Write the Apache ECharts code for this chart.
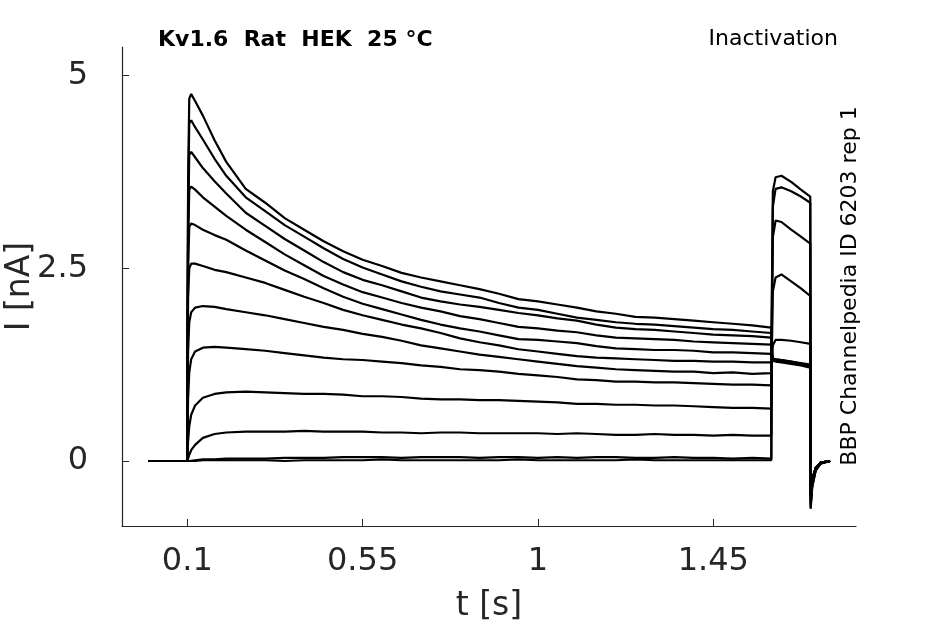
<!DOCTYPE html>
<html>
<head>
<meta charset="utf-8">
<title>Kv1.6 Inactivation</title>
<script src="https://cdn.jsdelivr.net/npm/echarts@6/dist/echarts.min.js"></script>
<style>
  html, body { margin: 0; padding: 0; background: #fff; }
  #chart { width: 945px; height: 624px; }
</style>
</head>
<body>
<div id="chart"></div>
<script>
// time points (s), shared by all sweeps
const timePoints = [0, 0.0995, 0.1, 0.102, 0.105, 0.11, 0.12, 0.14, 0.17, 0.2,
  0.25, 0.3, 0.35, 0.4, 0.45, 0.5, 0.55, 0.6, 0.65, 0.7,
  0.75, 0.8, 0.85, 0.9, 0.95, 1.0, 1.05, 1.1, 1.15, 1.2,
  1.25, 1.3, 1.35, 1.4, 1.45, 1.5, 1.55, 1.599,
  1.6, 1.603, 1.61, 1.625, 1.65, 1.675, 1.699,
  1.7, 1.704, 1.713, 1.726, 1.75];

// current (nA), one sweep per prepulse step
const sweep1 = [0, 0, 0.01, 3.60, 4.70, 4.76, 4.67, 4.48, 4.16, 3.88, 3.53, 3.35, 3.15, 3.00, 2.85, 2.72, 2.61, 2.53, 2.44, 2.38, 2.33, 2.28, 2.23, 2.17, 2.10, 2.07, 2.03, 1.99, 1.94, 1.91, 1.87, 1.86, 1.84, 1.82, 1.80, 1.78, 1.76, 1.73, 1.45, 1.33, 1.32, 1.31, 1.29, 1.27, 1.25, -0.42, -0.24, -0.09, -0.02, 0];
const sweep2 = [0, 0, 0.01, 3.30, 4.38, 4.42, 4.33, 4.17, 3.92, 3.70, 3.42, 3.24, 3.06, 2.91, 2.76, 2.62, 2.51, 2.42, 2.33, 2.26, 2.20, 2.16, 2.12, 2.05, 1.99, 1.96, 1.91, 1.86, 1.83, 1.80, 1.78, 1.77, 1.75, 1.73, 1.71, 1.70, 1.68, 1.66, 1.42, 1.31, 1.30, 1.30, 1.27, 1.25, 1.23, -0.42, -0.24, -0.09, -0.02, 0];
const sweep3 = [0, 0, 0.01, 3.00, 3.97, 4.01, 3.94, 3.80, 3.63, 3.47, 3.22, 3.05, 2.88, 2.73, 2.58, 2.45, 2.35, 2.28, 2.20, 2.12, 2.07, 2.03, 2.00, 1.96, 1.92, 1.89, 1.85, 1.82, 1.77, 1.73, 1.71, 1.70, 1.68, 1.66, 1.64, 1.63, 1.62, 1.60, 1.40, 1.32, 1.31, 1.30, 1.28, 1.26, 1.24, -0.42, -0.24, -0.09, -0.02, 0];
const sweep4 = [0, 0, 0.01, 2.80, 3.52, 3.56, 3.52, 3.42, 3.30, 3.18, 3.00, 2.84, 2.68, 2.54, 2.40, 2.29, 2.19, 2.12, 2.05, 1.99, 1.94, 1.88, 1.84, 1.79, 1.74, 1.72, 1.69, 1.67, 1.63, 1.60, 1.59, 1.58, 1.57, 1.55, 1.54, 1.53, 1.52, 1.51, 1.38, 1.31, 1.30, 1.29, 1.27, 1.25, 1.22, -0.42, -0.24, -0.09, -0.02, 0];
const sweep5 = [0, 0, 0.01, 2.50, 3.04, 3.08, 3.06, 3.00, 2.93, 2.87, 2.73, 2.60, 2.47, 2.36, 2.24, 2.13, 2.04, 1.97, 1.90, 1.83, 1.77, 1.72, 1.68, 1.63, 1.58, 1.57, 1.55, 1.53, 1.49, 1.46, 1.45, 1.44, 1.44, 1.43, 1.41, 1.41, 1.40, 1.39, 1.34, 1.30, 1.29, 1.28, 1.26, 1.24, 1.21, -0.42, -0.24, -0.09, -0.02, 0];
const sweep6 = [0, 0, 0.01, 2.10, 2.50, 2.56, 2.56, 2.53, 2.48, 2.45, 2.38, 2.31, 2.22, 2.13, 2.05, 1.96, 1.89, 1.83, 1.77, 1.72, 1.66, 1.59, 1.54, 1.50, 1.45, 1.42, 1.39, 1.36, 1.34, 1.33, 1.32, 1.31, 1.30, 1.30, 1.29, 1.29, 1.28, 1.28, 1.30, 1.32, 1.31, 1.30, 1.28, 1.25, 1.22, -0.42, -0.24, -0.09, -0.02, 0];
const sweep7 = [0, 0, 0.01, 1.40, 1.80, 1.93, 1.99, 2.01, 2.00, 1.97, 1.93, 1.89, 1.84, 1.79, 1.74, 1.70, 1.65, 1.61, 1.56, 1.50, 1.46, 1.42, 1.38, 1.35, 1.32, 1.29, 1.26, 1.23, 1.21, 1.19, 1.18, 1.17, 1.16, 1.16, 1.14, 1.15, 1.13, 1.14, 1.28, 1.33, 1.32, 1.31, 1.29, 1.26, 1.23, -0.42, -0.24, -0.09, -0.02, 0];
const sweep8 = [0, 0, 0.01, 0.80, 1.15, 1.32, 1.42, 1.47, 1.48, 1.47, 1.45, 1.43, 1.40, 1.37, 1.34, 1.32, 1.31, 1.29, 1.27, 1.24, 1.22, 1.19, 1.18, 1.16, 1.13, 1.11, 1.09, 1.06, 1.05, 1.03, 1.03, 1.02, 1.02, 1.01, 1.00, 0.99, 0.99, 0.98, 1.20, 1.50, 1.57, 1.57, 1.56, 1.54, 1.52, -0.45, -0.26, -0.10, -0.02, 0];
const sweep9 = [0, 0, 0.01, 0.25, 0.45, 0.60, 0.72, 0.82, 0.87, 0.89, 0.90, 0.89, 0.88, 0.87, 0.87, 0.86, 0.84, 0.84, 0.83, 0.81, 0.80, 0.80, 0.79, 0.79, 0.78, 0.77, 0.76, 0.74, 0.74, 0.73, 0.73, 0.72, 0.72, 0.71, 0.70, 0.69, 0.69, 0.68, 1.30, 2.20, 2.38, 2.42, 2.33, 2.24, 2.14, -0.50, -0.28, -0.10, -0.03, 0];
const sweep10 = [0, 0, 0, 0.03, 0.08, 0.14, 0.21, 0.30, 0.35, 0.37, 0.38, 0.38, 0.38, 0.39, 0.38, 0.38, 0.38, 0.37, 0.37, 0.36, 0.37, 0.37, 0.36, 0.36, 0.36, 0.36, 0.35, 0.36, 0.35, 0.34, 0.34, 0.35, 0.34, 0.34, 0.33, 0.34, 0.33, 0.33, 1.50, 2.90, 3.12, 3.10, 3.00, 2.91, 2.82, -0.56, -0.31, -0.11, -0.03, 0];
const sweep11 = [0, 0, 0, 0, 0, 0.01, 0.01, 0.02, 0.02, 0.03, 0.03, 0.03, 0.04, 0.04, 0.04, 0.05, 0.05, 0.05, 0.04, 0.05, 0.05, 0.05, 0.04, 0.05, 0.05, 0.04, 0.05, 0.04, 0.05, 0.05, 0.04, 0.04, 0.05, 0.04, 0.04, 0.03, 0.04, 0.03, 1.80, 3.30, 3.53, 3.55, 3.50, 3.43, 3.35, -0.60, -0.33, -0.12, -0.03, 0];
const sweep12 = [0, 0, 0, 0, 0, 0, 0, 0.01, 0.01, 0.01, 0.01, 0.01, 0, 0.01, 0.01, 0.01, 0.01, 0.02, 0.01, 0.01, 0.01, 0.01, 0.01, 0.01, 0.02, 0.01, 0.01, 0.01, 0.01, 0.01, 0.02, 0.01, 0.01, 0.01, 0.01, 0.01, 0.01, 0.01, 1.90, 3.50, 3.68, 3.70, 3.62, 3.52, 3.43, -0.62, -0.34, -0.12, -0.03, 0];

const sweeps = [sweep1, sweep2, sweep3, sweep4, sweep5, sweep6,
  sweep7, sweep8, sweep9, sweep10, sweep11, sweep12];

// axis ticks
const xTicks = [0.1, 0.55, 1, 1.45];
const xTickLabels = ['0.1', '0.55', '1', '1.45'];
const yTicks = [0, 2.5, 5];
const yTickLabels = ['0', '2.5', '5'];

const FONT = 'DejaVu Sans';
const AXIS_COLOR = '#262626';

const chart = echarts.init(document.getElementById('chart'));

const option = {
    animation: false,
    backgroundColor: '#fff',
    title: [
        {
            text: 'Kv1.6  Rat  HEK  25 °C',
            left: 158,
            top: 29,
            padding: 0,
            textStyle: { fontFamily: FONT, fontWeight: 'bold', fontSize: 22, color: '#000' }
        },
        {
            text: 'Inactivation',
            right: 107,
            top: 28,
            padding: 0,
            textStyle: { fontFamily: FONT, fontWeight: 'normal', fontSize: 22, color: '#000' }
        }
    ],
    grid: { left: 122, right: 89, top: 47, bottom: 98, containLabel: false, outerBoundsMode: 'none' },
    xAxis: {
        type: 'value',
        min: -0.0676,
        max: 1.8164,
        name: 't [s]',
        nameLocation: 'middle',
        nameGap: 64,
        nameTextStyle: { fontFamily: FONT, fontSize: 33, color: AXIS_COLOR },
        axisLine: { show: true, onZero: false, lineStyle: { color: AXIS_COLOR, width: 1.2 } },
        axisTick: { show: true, inside: true, length: 7, customValues: xTicks, lineStyle: { color: AXIS_COLOR } },
        axisLabel: {
            customValues: xTicks,
            formatter: (v) => xTickLabels[xTicks.indexOf(v)] ?? String(v),
            fontFamily: FONT, fontSize: 32, color: AXIS_COLOR, margin: 20
        },
        splitLine: { show: false }
    },
    yAxis: {
        type: 'value',
        min: -0.843,
        max: 5.37,
        name: 'I [nA]',
        nameLocation: 'middle',
        nameGap: 85,
        nameMoveOverlap: false,
        nameRotate: 90,
        nameTextStyle: { fontFamily: FONT, fontSize: 33, color: AXIS_COLOR },
        axisLine: { show: true, onZero: false, lineStyle: { color: AXIS_COLOR, width: 1.2 } },
        axisTick: { show: true, inside: true, length: 7, customValues: yTicks, lineStyle: { color: AXIS_COLOR } },
        axisLabel: {
            customValues: yTicks,
            formatter: (v) => yTickLabels[yTicks.indexOf(v)] ?? String(v),
            fontFamily: FONT, fontSize: 32, color: AXIS_COLOR, margin: 34
        },
        splitLine: { show: false }
    },
    graphic: [
        {
            type: 'text',
            x: 850,
            y: 286,
            rotation: Math.PI / 2,
            style: {
                text: 'BBP Channelpedia ID 6203 rep 1',
                font: '22px "DejaVu Sans"',
                fill: '#000',
                align: 'center',
                verticalAlign: 'middle'
            }
        }
    ],
    series: sweeps.map((values, i) => ({
        name: 'sweep ' + (i + 1),
        type: 'line',
        showSymbol: false,
        symbol: 'none',
        clip: true,
        lineStyle: { color: '#000', width: 2.2 },
        data: timePoints.map((t, k) => [t, values[k]])
    }))
};

chart.setOption(option);
window.addEventListener('resize', () => chart.resize());
</script>
</body>
</html>
